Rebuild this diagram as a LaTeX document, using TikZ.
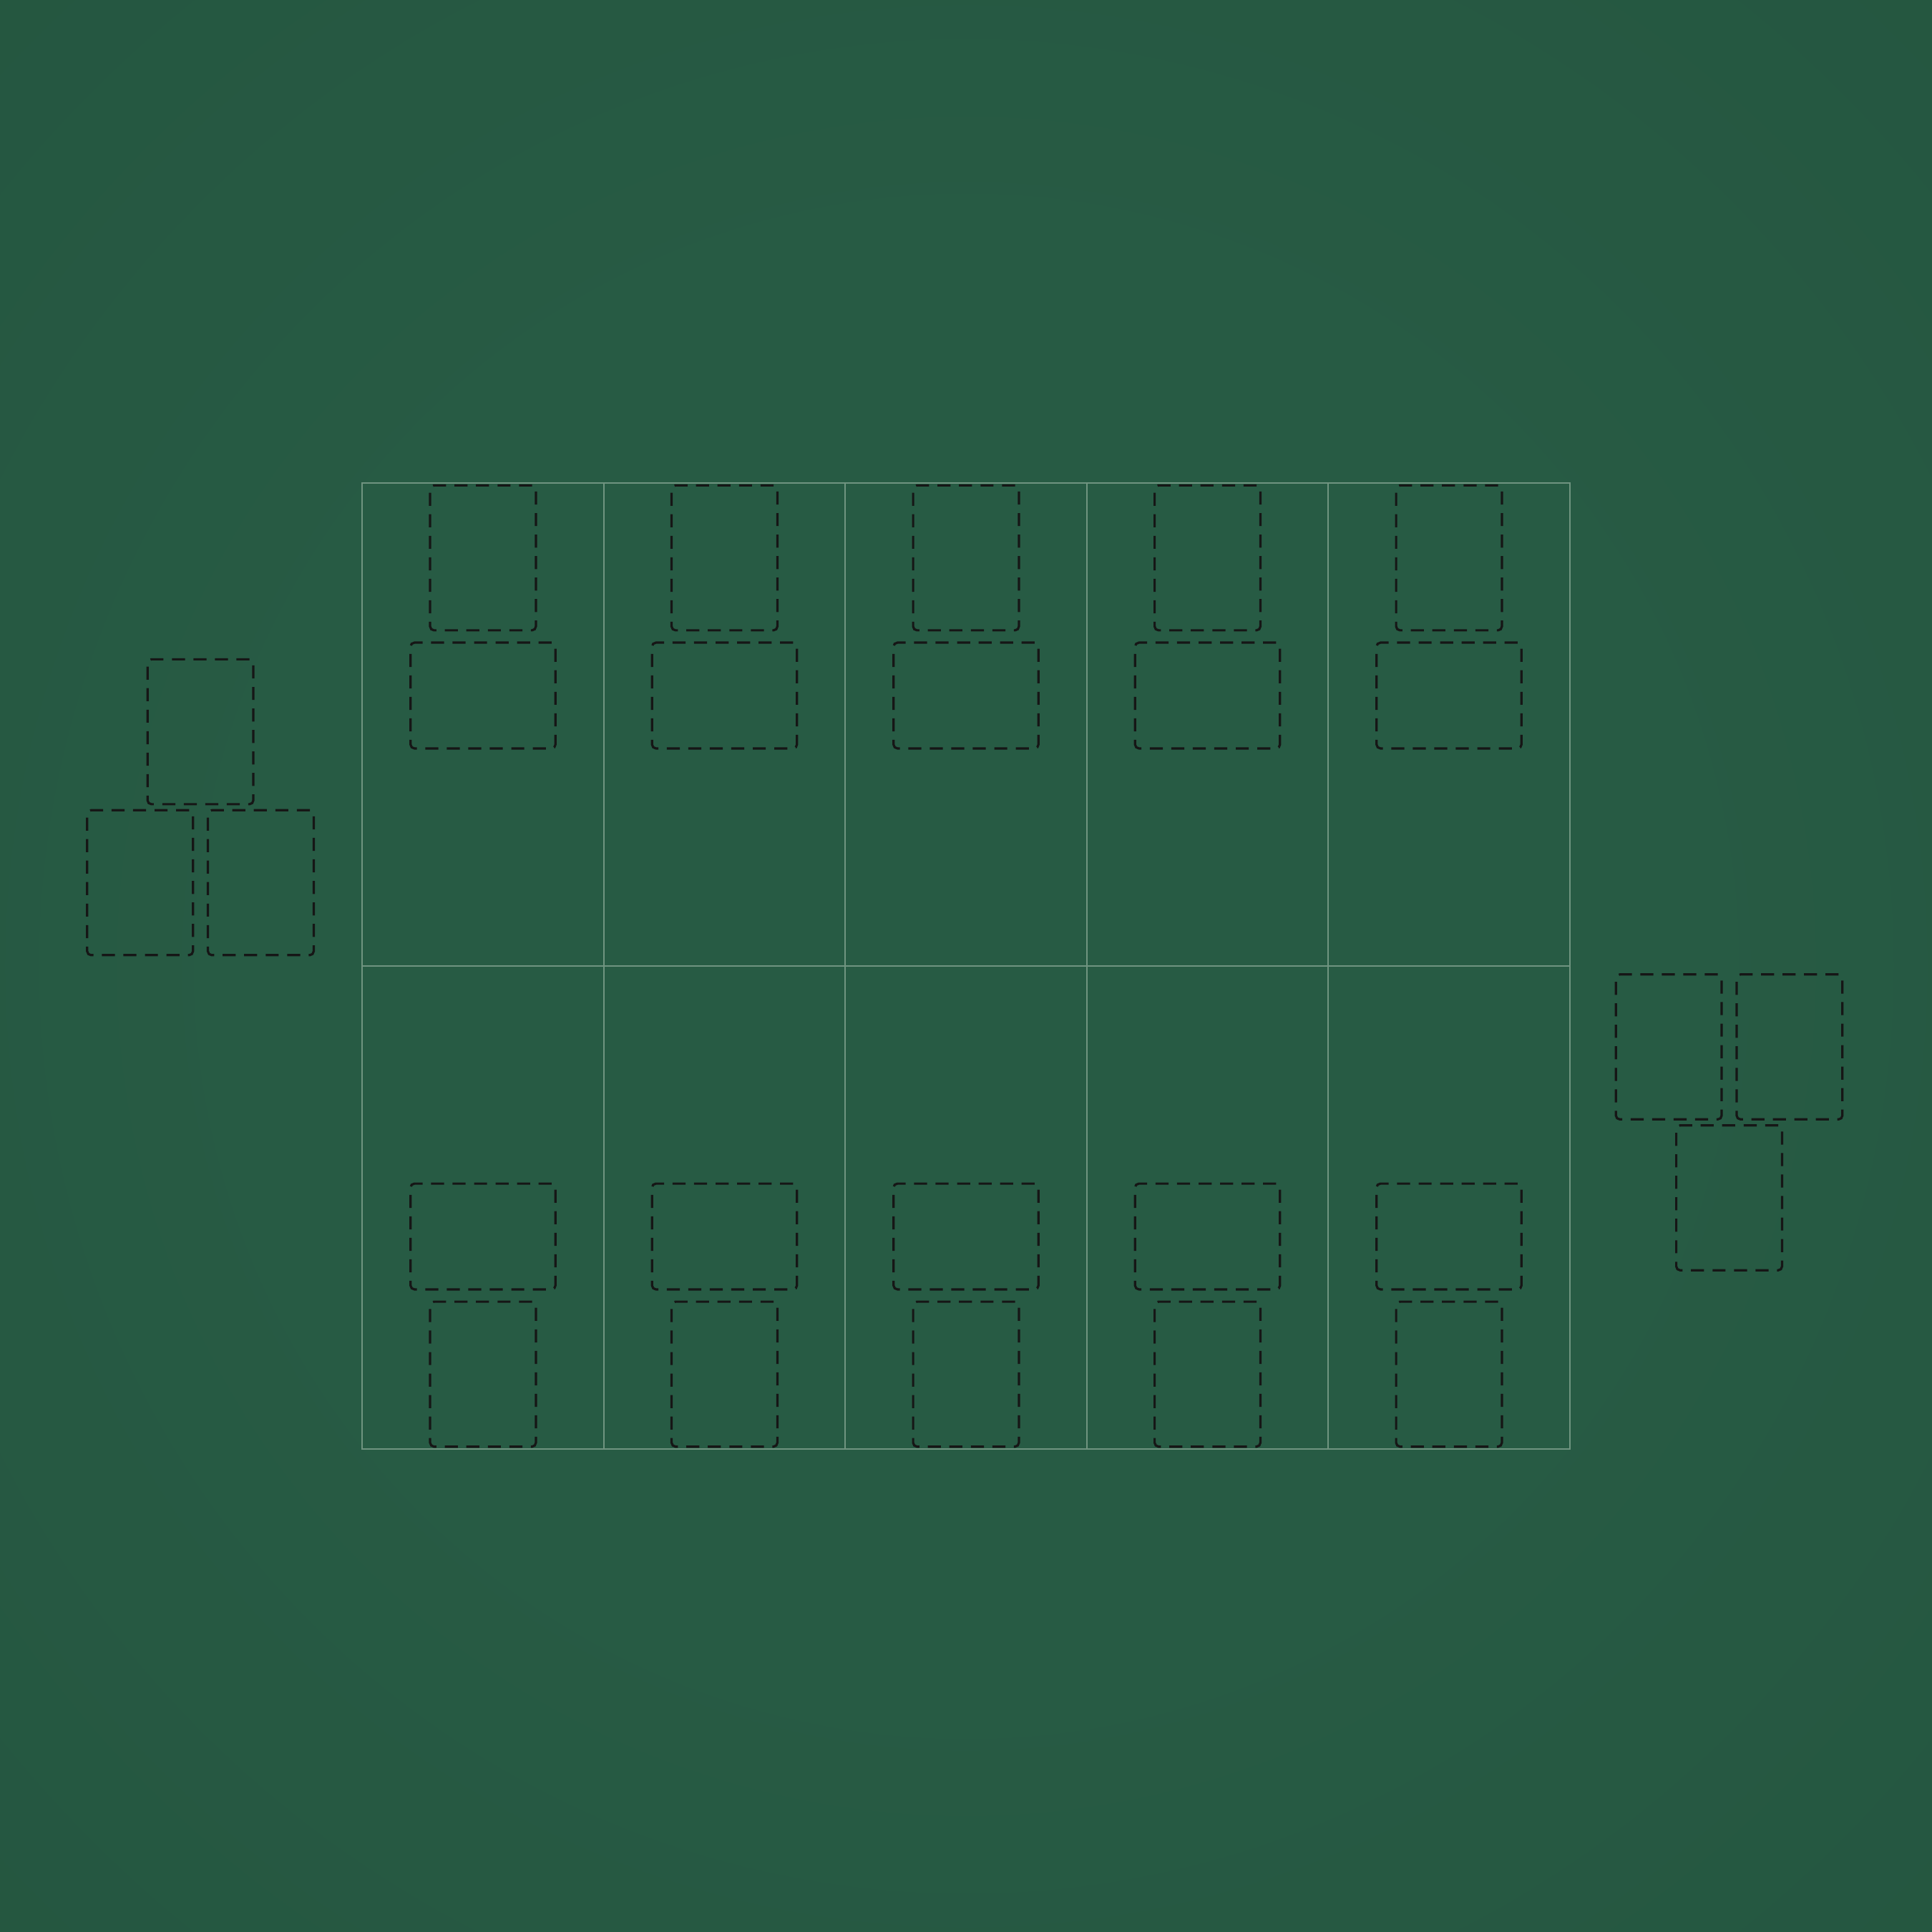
\documentclass[tikz,border=0pt]{standalone}
\definecolor{bgc}{RGB}{39,91,68}
\definecolor{bgm}{RGB}{35,83,61}
\definecolor{bge}{RGB}{29,67,50}
\definecolor{gridc}{RGB}{112,148,128}
\definecolor{cardc}{RGB}{22,22,22}
\pgfdeclareradialshading{vignette}{\pgfpoint{0bp}{0bp}}{color(0bp)=(bgc); color(18bp)=(bgc); color(50bp)=(bgm); color(71bp)=(bge)}
\begin{document}
\begin{tikzpicture}[x=1mm,y=-1mm,
  cardline/.style={draw=cardc, line width=0.95mm, dash pattern=on 5.4mm off 3.5mm, rounded corners=1.6mm, inner sep=0pt, fill=none},
  portrait/.style={cardline, minimum width=43.8mm, minimum height=60mm},
  landscape/.style={cardline, minimum width=60mm, minimum height=43.8mm},
  gridline/.style={draw=gridc, line width=0.65mm}]
\useasboundingbox (0,0) rectangle (800,800);
\shade[shading=vignette] (0,0) rectangle (800,800);
% grid
\draw[gridline] (150,200) rectangle (650,600);
\foreach \gx in {250,350,450,550} \draw[gridline] (\gx,200) -- (\gx,600);
\draw[gridline] (150,400) -- (650,400);
% table cards
\foreach \i/\cx in {1/200,2/300,3/400,4/500,5/600} {
  \node[portrait] (tp\i) at (\cx,231) {};
  \node[landscape] (tl\i) at (\cx,288) {};
  \node[landscape] (bl\i) at (\cx,512) {};
  \node[portrait] (bp\i) at (\cx,569) {};
}
% left stack
\node[portrait] (la) at (83,303) {};
\node[portrait] (lb) at (58,365.5) {};
\node[portrait] (lc) at (108,365.5) {};
% right stack
\node[portrait] (ra) at (691,433.5) {};
\node[portrait] (rb) at (741,433.5) {};
\node[portrait] (rc) at (716,496) {};
\end{tikzpicture}
\end{document}
